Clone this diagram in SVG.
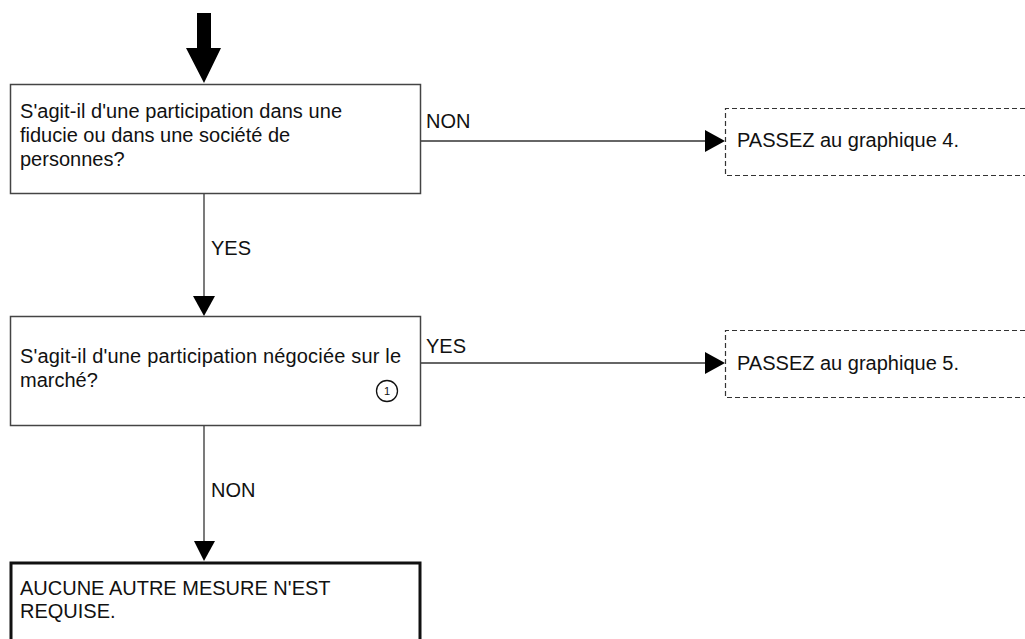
<svg xmlns="http://www.w3.org/2000/svg" width="1025" height="639" viewBox="0 0 1025 639">
<style>
  text { font-family: "Liberation Sans", Arial, sans-serif; font-size: 20px; fill: #111; }
  .box { fill: #fff; stroke: #444; stroke-width: 1.5; }
  .thick { fill: #fff; stroke: #111; stroke-width: 3; }
  .dash { fill: none; stroke: #333; stroke-width: 1.2; stroke-dasharray: 5 3; }
  .conn { stroke: #333; stroke-width: 1.3; fill: none; }
  .head { fill: #000; }
  .small { font-size: 11px; }
</style>
<rect width="1025" height="639" fill="#fff"/>
<g id="connectors">
  <polygon class="head" points="197,13 211,13 211,48 221,48 204,83 186,48 197,48"/>
  <line class="conn" x1="204" y1="193" x2="204" y2="297"/>
  <polygon class="head" points="193,296 215,296 204,316"/>
  <line class="conn" x1="420" y1="141" x2="707" y2="141"/>
  <polygon class="head" points="705,130 725,141 705,152"/>
  <line class="conn" x1="420" y1="363" x2="707" y2="363"/>
  <polygon class="head" points="705,352 725,363 705,374"/>
  <line class="conn" x1="204" y1="426" x2="204" y2="542"/>
  <polygon class="head" points="194,541 215,541 204,561"/>
  <text x="211" y="255">YES</text>
  <text x="426" y="128">NON</text>
  <text x="426" y="353">YES</text>
  <text x="211" y="497">NON</text>
</g>
<g id="q1">
  <rect class="box" x="10.5" y="84.5" width="410" height="109"/>
  <text x="20" y="118" textLength="322" lengthAdjust="spacing">S'agit-il d'une participation dans une</text>
  <text x="20" y="142">fiducie ou dans une société de</text>
  <text x="20" y="166">personnes?</text>
</g>
<g id="p4">
  <path class="dash" d="M1025,108.5 H725.5 V175.5 H1025"/>
  <text x="737" y="147">PASSEZ au graphique 4.</text>
</g>
<g id="q2">
  <rect class="box" x="10.5" y="316.5" width="410" height="109"/>
  <text x="20" y="363" textLength="381" lengthAdjust="spacing">S'agit-il d'une participation négociée sur le</text>
  <text x="20" y="387">marché?</text>
  <circle cx="387" cy="391" r="10.5" fill="none" stroke="#111" stroke-width="1.3"/>
  <text class="small" x="387" y="395" text-anchor="middle">1</text>
</g>
<g id="p5">
  <path class="dash" d="M1025,330.5 H725.5 V397.5 H1025"/>
  <text x="737" y="370">PASSEZ au graphique 5.</text>
</g>
<g id="end">
  <rect class="thick" x="11" y="563" width="409" height="90"/>
  <text x="20" y="595">AUCUNE AUTRE MESURE N'EST</text>
  <text x="20" y="618">REQUISE.</text>
</g>
</svg>
